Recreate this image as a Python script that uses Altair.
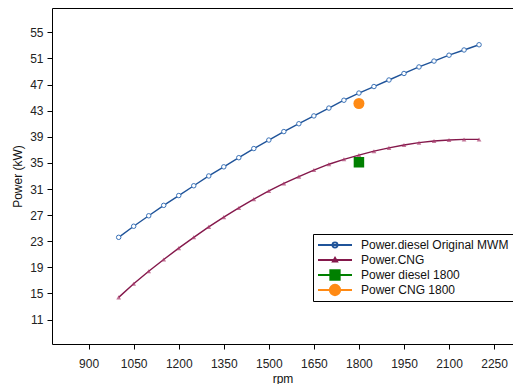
import altair as alt
import pandas as pd

rpm = [1000, 1050, 1100, 1150, 1200, 1250, 1300, 1350, 1400, 1450, 1500, 1550, 1600,
       1650, 1700, 1750, 1800, 1850, 1900, 1950, 2000, 2050, 2100, 2150, 2200]
power_diesel = [23.6, 25.3, 26.9, 28.5, 30.0, 31.5, 33.0, 34.4, 35.8, 37.2, 38.5, 39.8, 41.0,
                42.2, 43.4, 44.6, 45.7, 46.7, 47.7, 48.7, 49.7, 50.6, 51.5, 52.3, 53.1]
power_cng = [14.4, 16.5, 18.4, 20.2, 21.95, 23.6, 25.2, 26.7, 28.1, 29.45, 30.7, 31.85, 32.9,
             33.9, 34.8, 35.55, 36.2, 36.8, 37.3, 37.75, 38.1, 38.35, 38.5, 38.6, 38.6]
single_rpm = [1800, 1800]
single_power = [35.1, 44.1]
series_names = ["Power.diesel Original MWM", "Power.CNG", "Power diesel 1800", "Power CNG 1800"]
series_colors = ["#1f5399", "#84184b", "#008000", "#ff8a14"]
legend_fills = ["white", "#e8a8c4", "#008000", "#ff8a14"]
legend_paths = [
    "M-1,0H1M0.15,0A0.15,0.15,0,1,1,-0.15,0A0.15,0.15,0,1,1,0.15,0Z",
    "M-1,0H1M0,-0.13L0.13,0.1L-0.13,0.1Z",
    "M-1,0H1M-0.28,-0.28H0.28V0.28H-0.28Z",
    "M-1,0H1M0.31,0A0.31,0.31,0,1,1,-0.31,0A0.31,0.31,0,1,1,0.31,0Z",
]
x_ticks = [900, 1050, 1200, 1350, 1500, 1650, 1800, 1950, 2100, 2250]
y_ticks = [11, 15, 19, 23, 27, 31, 35, 39, 43, 47, 51, 55]

diesel_df = pd.DataFrame({"rpm": rpm, "power": power_diesel})
cng_df = pd.DataFrame({"rpm": rpm, "power": power_cng})
single_df = pd.DataFrame({"rpm": single_rpm, "power": single_power, "series": series_names[2:]})
legend_df = pd.DataFrame({"series": series_names})

FONT = "Liberation Sans"
x_scale = alt.Scale(domain=[778, 2313], nice=False, zero=False)
y_scale = alt.Scale(domain=[7.26, 58.73], nice=False, zero=False)

axis_style = dict(grid=False, domainColor="black", domainWidth=1, tickColor="black",
                  tickSize=5, labelFont=FONT, labelFontSize=12, labelColor="#222",
                  titleFont=FONT, titleFontSize=12, titleFontWeight="normal",
                  titleColor="#111")
x_axis = alt.Axis(values=x_ticks, title="rpm", format="d", labelPadding=9, titleY=29,
                  labelFlush=False, **axis_style)
y_axis = alt.Axis(values=y_ticks, title="Power (kW)", labelPadding=4, titlePadding=5,
                  **axis_style)
top_axis = alt.Axis(orient="top", labels=False, ticks=False, title="", grid=False,
                    domainColor="black", domainWidth=1)

x_enc = alt.X("rpm:Q", scale=x_scale, axis=x_axis)
x_top = alt.X("rpm:Q", scale=x_scale, axis=top_axis)
x_noaxis = alt.X("rpm:Q", scale=x_scale, axis=None)
y_enc = alt.Y("power:Q", scale=y_scale, axis=y_axis)

diesel_line = alt.Chart(diesel_df).mark_line(color=series_colors[0], strokeWidth=1.4).encode(
    x=x_enc, y=y_enc)
diesel_pts = alt.Chart(diesel_df).mark_point(
    shape="circle", size=20, fill="white", stroke="#3a72b8", strokeWidth=1,
    opacity=1).encode(x=x_top, y=y_enc)
cng_line = alt.Chart(cng_df).mark_line(color=series_colors[1], strokeWidth=1.4).encode(
    x=x_noaxis, y=y_enc)
cng_pts = alt.Chart(cng_df).mark_point(
    shape="triangle-up", size=22, filled=True, color="#a83a6c", opacity=0.7).encode(
    x=x_noaxis, y=y_enc)
sq = alt.Chart(single_df).transform_filter(
    alt.datum.series == series_names[2]).mark_point(
    shape="square", size=110, filled=True, color=series_colors[2], opacity=1).encode(
    x=x_noaxis, y=y_enc)
circ = alt.Chart(single_df).transform_filter(
    alt.datum.series == series_names[3]).mark_point(
    shape="circle", size=121, filled=True, color=series_colors[3], opacity=1).encode(
    x=x_noaxis, y=y_enc)

legend = alt.Legend(title=None, orient="none", legendX=261, legendY=226,
                    symbolSize=1156, symbolStrokeWidth=1.8, symbolOpacity=1,
                    clipHeight=14, rowPadding=1, padding=4, labelOffset=8,
                    labelFont=FONT, labelFontSize=12, labelColor="#111", labelLimit=300,
                    strokeColor="black", fillColor="white")
legend_layer = alt.Chart(legend_df).mark_point(filled=True, opacity=0).encode(
    shape=alt.Shape("series:N", scale=alt.Scale(domain=series_names, range=legend_paths),
                    legend=legend),
    fill=alt.Fill("series:N", scale=alt.Scale(domain=series_names, range=legend_fills),
                  legend=legend),
    stroke=alt.Stroke("series:N", scale=alt.Scale(domain=series_names, range=series_colors),
                      legend=legend),
)

chart = alt.layer(diesel_line, diesel_pts, cng_line, cng_pts, sq, circ, legend_layer).resolve_axis(
    x="independent"
).properties(
    width=461, height=336,
    padding={"left": 44, "top": 0, "right": 0, "bottom": 40},
    autosize=alt.AutoSizeParams(type="none"),
    background="white",
).configure_view(strokeWidth=0)

chart.save("out.html", embed_options={"renderer": "svg", "actions": False})
